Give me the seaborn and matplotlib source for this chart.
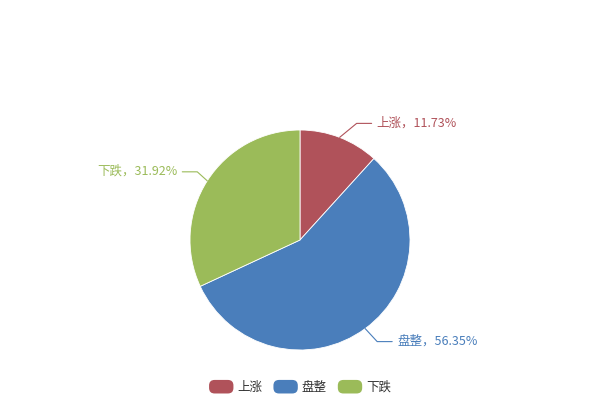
import numpy as np
import matplotlib
matplotlib.use("Agg")
import matplotlib.pyplot as plt
import seaborn as sns
from matplotlib.patches import FancyBboxPatch
from matplotlib.legend_handler import HandlerPatch

categories = ["上涨", "盘整", "下跌"]
values = [11.73, 56.35, 31.92]
colors = ["#b0525a", "#4a7ebb", "#9bbb59"]

# leader-line elbow offsets (style only, pixels)
leader_dx = [17, 12, -10]
leader_dy = [14, -13, 9]

sns.set_theme(style="white")
plt.rcParams['font.family'] = ['Noto Sans CJK SC', 'DejaVu Sans']

palette = sns.color_palette(colors)

fig = plt.figure(figsize=(6, 4), dpi=100)
ax = fig.add_axes([0, 0, 1, 1])
ax.set_xlim(0, 600)
ax.set_ylim(0, 400)
ax.set_aspect("equal")
ax.axis("off")

cx, cy, r = 300, 160, 110
wedges, _ = ax.pie(values, colors=palette, startangle=90, counterclock=False,
                   center=(cx, cy), radius=r,
                   wedgeprops=dict(edgecolor="white", linewidth=0.6))
ax.set_xlim(0, 600)
ax.set_ylim(0, 400)

total = sum(values)
cum = 0
for cat, v, col, ldx, ldy in zip(categories, values, colors, leader_dx, leader_dy):
    mid = (cum + v / 2) / total * 360
    cum += v
    a = np.deg2rad(mid)
    sx, sy = np.sin(a), np.cos(a)
    p0 = (cx + r * sx, cy + r * sy)
    p1 = (p0[0] + ldx, p0[1] + ldy)
    d = 1 if ldx >= 0 else -1
    p2 = (p1[0] + 15 * d, p1[1])
    ax.plot([p0[0], p1[0], p2[0]], [p0[1], p1[1], p2[1]], color=col, lw=0.8)
    ax.text(p2[0] + 5 * d, p2[1] + 0.5, f"{cat}，{v:.2f}%", color=col, fontsize=9,
            ha="left" if d > 0 else "right", va="center")


class RoundHandler(HandlerPatch):
    def create_artists(self, legend, orig_handle, xdescent, ydescent, width, height, fontsize, trans):
        p = FancyBboxPatch((-xdescent + 2, -ydescent + 1), width - 4, height - 2,
                           boxstyle="round,pad=2,rounding_size=4",
                           facecolor=orig_handle.get_facecolor(), edgecolor="none",
                           transform=trans)
        return [p]


leg = fig.legend(wedges, categories, loc="center", bbox_to_anchor=(0.5, 1 - 387.5 / 400),
                 ncol=3, frameon=False, fontsize=9, handlelength=1.95, handleheight=0.95,
                 handletextpad=0.3, columnspacing=0.9,
                 handler_map={matplotlib.patches.Wedge: RoundHandler()})
for t in leg.get_texts():
    t.set_color("#333333")

fig.savefig("out.png", dpi=100)
